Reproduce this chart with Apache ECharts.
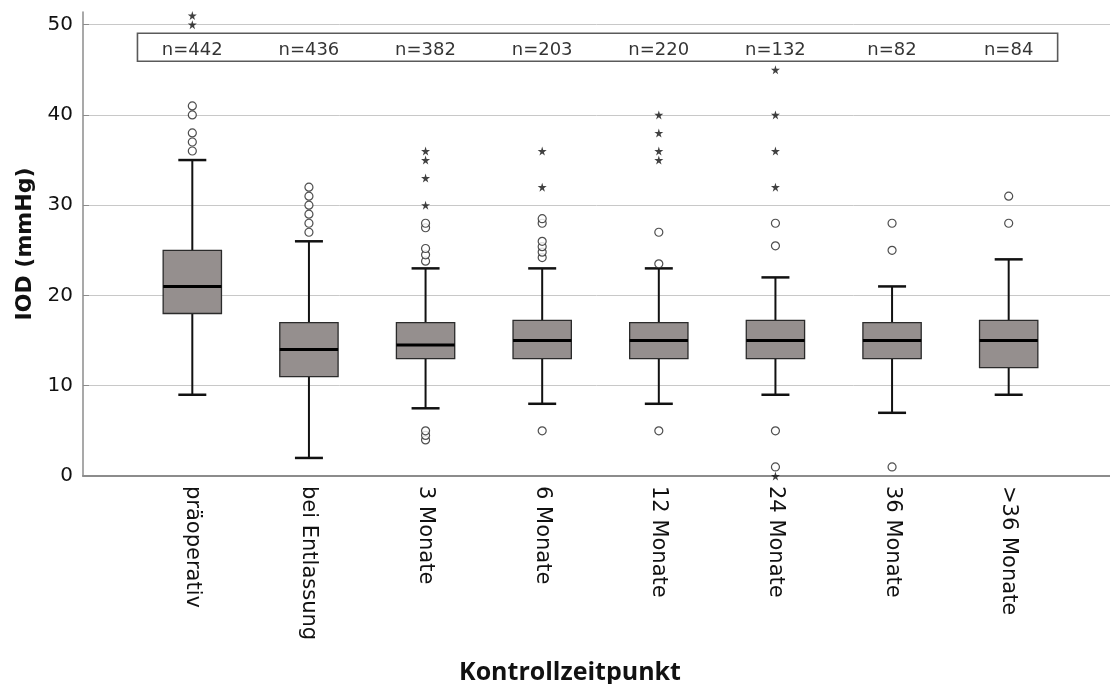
<!DOCTYPE html>
<html>
<head>
<meta charset="utf-8">
<script src="https://cdn.jsdelivr.net/npm/echarts@6/dist/echarts.min.js"></script>
<style>html,body{margin:0;padding:0;background:#fff}#c{width:1110px;height:684px}</style>
</head>
<body>
<div id="c"></div>
<script>
var categories = ['präoperativ', 'bei Entlassung', '3 Monate', '6 Monate', '12 Monate', '24 Monate', '36 Monate', '>36 Monate'];
var nCounts = [442, 436, 382, 203, 220, 132, 82, 84];
var whiskerLow = [9, 2, 7.5, 8, 8, 9, 7, 9];
var q1 = [18, 11, 13, 13, 13, 13, 13, 12];
var median = [21, 14, 14.5, 15, 15, 15, 15, 15];
var q3 = [25, 17, 17, 17.25, 17, 17.25, 17, 17.25];
var whiskerHigh = [35, 26, 23, 23, 23, 22, 21, 24];
var outlierCircles = [
  [36, 37, 38, 40, 41],
  [27, 28, 29, 30, 31, 32],
  [23.8, 24.5, 25.2, 27.5, 28, 4, 4.5, 5],
  [24.2, 24.8, 25.4, 26, 28, 28.5, 5],
  [23.5, 27, 5],
  [25.5, 28, 5, 1],
  [25, 28, 1],
  [28, 31]
];
var outlierStars = [
  [50, 51],
  [],
  [30, 33, 35, 36],
  [32, 36],
  [35, 36, 38, 40],
  [32, 36, 40, 45, 0],
  [],
  []
];
var yTicks = [0, 10, 20, 30, 40, 50];

var boxData = categories.map(function (c, i) {
  return [i, whiskerLow[i], q1[i], median[i], q3[i], whiskerHigh[i]];
});
var circleData = [], starData = [];
outlierCircles.forEach(function (arr, i) { arr.forEach(function (v) { circleData.push([i, v]); }); });
outlierStars.forEach(function (arr, i) { arr.forEach(function (v) { starData.push([i, v]); }); });
var nData = nCounts.map(function (n, i) { return [i, 47.2, n]; });

var YMAX = 51.4;
var starPath = 'path://M50,0 L61,35 L98,35 L68,57 L79,91 L50,70 L21,91 L32,57 L2,35 L39,35 Z';
var FONT = 'DejaVu Sans';

var chart = echarts.init(document.getElementById('c'), null, {renderer: 'canvas'});
chart.setOption({
  animation: false,
  backgroundColor: '#fff',
  title: {
    text: 'Kontrollzeitpunkt',
    left: 565, top: 655, textAlign: 'center',
    textStyle: {fontFamily: 'Open Sans', fontWeight: 'bold', fontSize: 25, color: '#111'}
  },
  grid: [
    {left: 83, right: 0, top: 12, bottom: 208},
    {left: 134, right: 43, top: 12, bottom: 208}
  ],
  xAxis: [
    {
      type: 'value', gridIndex: 0, min: -0.937, max: 7.869,
      axisLine: {show: true, onZero: false, lineStyle: {color: '#8c8c8c', width: 2}},
      axisTick: {show: false}, axisLabel: {show: false}, splitLine: {show: false}
    },
    {
      type: 'category', gridIndex: 1, data: categories,
      axisLine: {show: false}, axisTick: {show: false}, splitLine: {show: false},
      axisLabel: {rotate: -90, margin: 10, interval: 0, fontFamily: FONT, fontSize: 21, color: '#111'}
    }
  ],
  yAxis: [
    {
      type: 'value', gridIndex: 0, min: 0, max: YMAX, interval: 10,
      name: 'IOD (mmHg)', nameLocation: 'middle', nameGap: 46,
      nameTextStyle: {fontFamily: FONT, fontWeight: 'bold', fontSize: 22, color: '#111'},
      axisLine: {show: true, onZero: false, lineStyle: {color: '#8c8c8c', width: 1.5}},
      axisTick: {show: true, inside: true, length: 6, lineStyle: {color: '#8c8c8c'}},
      axisLabel: {fontFamily: FONT, fontSize: 20, color: '#111', margin: 10, showMaxLabel: false,
        formatter: function (v) { return yTicks.indexOf(v) >= 0 ? String(v) : ''; }},
      splitLine: {show: true, showMaxLine: false, showMinLine: false, lineStyle: {color: '#c8c8c8', width: 1}}
    },
    {
      type: 'value', gridIndex: 1, min: 0, max: YMAX, show: false, splitLine: {show: false}
    }
  ],
  series: [
    {
      type: 'scatter', xAxisIndex: 0, yAxisIndex: 0, data: nData, z: 1,
      symbolSize: 0, silent: true,
      label: {show: true, position: 'inside', formatter: function (p) { return 'n=' + p.value[2]; },
        fontFamily: FONT, fontSize: 18, color: '#000'},
      markArea: {
        silent: true,
        itemStyle: {color: 'rgba(0,0,0,0)', borderColor: '#5a5a5a', borderWidth: 1.6},
        data: [[{coord: [-0.47, 45.94]}, {coord: [7.42, 49.04]}]]
      },
      markLine: {
        silent: true, symbol: 'none', label: {show: false},
        lineStyle: {color: '#8c8c8c', width: 2, type: 'solid'},
        data: [{yAxis: 0}]
      }
    },
    {
      type: 'custom', xAxisIndex: 1, yAxisIndex: 1, data: boxData, z: 3,
      encode: {x: 0, y: [1, 2, 3, 4, 5]}, clip: false,
      renderItem: function (params, api) {
        var i = api.value(0);
        var band = api.size([1, 0])[0];
        var bw = band * 0.5, cw = band * 0.24;
        var pL = api.coord([i, api.value(1)]);
        var p1 = api.coord([i, api.value(2)]);
        var pM = api.coord([i, api.value(3)]);
        var p3 = api.coord([i, api.value(4)]);
        var pH = api.coord([i, api.value(5)]);
        var x = pM[0];
        var ls = {stroke: '#111', lineWidth: 2};
        return {type: 'group', children: [
          {type: 'line', shape: {x1: x, y1: p3[1], x2: x, y2: pH[1]}, style: ls},
          {type: 'line', shape: {x1: x, y1: pL[1], x2: x, y2: p1[1]}, style: ls},
          {type: 'line', shape: {x1: x - cw / 2, y1: pH[1], x2: x + cw / 2, y2: pH[1]}, style: {stroke: '#111', lineWidth: 2.5}},
          {type: 'line', shape: {x1: x - cw / 2, y1: pL[1], x2: x + cw / 2, y2: pL[1]}, style: {stroke: '#111', lineWidth: 2.5}},
          {type: 'rect', shape: {x: x - bw / 2, y: p3[1], width: bw, height: p1[1] - p3[1]},
            style: {fill: '#958f8e', stroke: '#2b2b2b', lineWidth: 1.3}},
          {type: 'line', shape: {x1: x - bw / 2, y1: pM[1], x2: x + bw / 2, y2: pM[1]}, style: {stroke: '#000', lineWidth: 3}}
        ]};
      }
    },
    {
      type: 'scatter', xAxisIndex: 1, yAxisIndex: 1, data: circleData, clip: false, z: 4,
      symbol: 'circle', symbolSize: 8,
      itemStyle: {color: '#fff', borderColor: '#222', borderWidth: 1.2}
    },
    {
      type: 'scatter', xAxisIndex: 1, yAxisIndex: 1, data: starData, clip: false, z: 5,
      symbol: starPath, symbolSize: 9,
      itemStyle: {color: '#111'}
    }
  ]
});
</script>
</body>
</html>
